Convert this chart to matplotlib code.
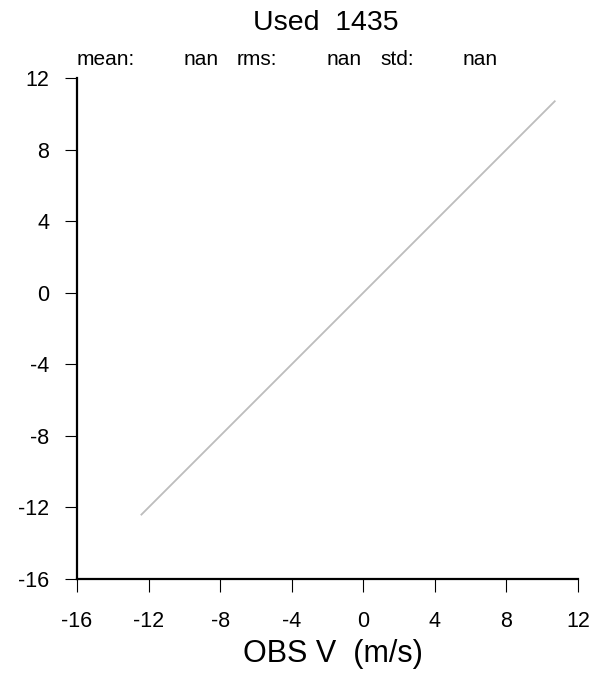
import matplotlib; matplotlib.use('Agg')
import matplotlib.pyplot as plt

# ── data ──────────────────────────────────────────────
n_used     = 1435
stat_names = ['mean:', 'rms:', 'std:']
stat_vals  = ['nan', 'nan', 'nan']
line_x     = [-12.4, 10.7]      # 1:1 reference line, data range
line_y     = [-12.4, 10.7]
ticks      = [-16, -12, -8, -4, 0, 4, 8, 12]
xlabel     = 'OBS V  (m/s)'

plt.rcParams['font.family'] = ['Liberation Sans', 'DejaVu Sans']
plt.rcParams['axes.unicode_minus'] = False

W, H = 603, 674
fig = plt.figure(figsize=(W/100, H/100), dpi=100)
ax = fig.add_axes([77/W, 1-579/H, 501/W, 501/H])

ax.plot(line_x, line_y, color='#bdbdbd', lw=1.3)

ax.set_xlim(-16, 12); ax.set_ylim(-16, 12)
ax.set_xticks(ticks); ax.set_yticks(ticks)
ax.tick_params(direction='out', length=9, width=0.8, labelsize=15.5, color='black')
ax.tick_params(axis='x', pad=14)
ax.tick_params(axis='y', pad=11)
for s in ['top', 'right']:
    ax.spines[s].set_visible(False)
for s in ['left', 'bottom']:
    ax.spines[s].set_linewidth(1.6)

fig.text(326/W, 1-30/H, f'Used  {n_used}', ha='center', va='baseline', fontsize=20.5)
fig.text(333/W, 1-662/H, xlabel, ha='center', va='baseline', fontsize=22)

# stats row: label left-aligned, value right-aligned
lab_x = [77, 237, 380]
val_x = [219, 362, 498]
for nm, v, xl, xv in zip(stat_names, stat_vals, lab_x, val_x):
    fig.text(xl/W, 1-65/H, nm, ha='left', va='baseline', fontsize=15)
    fig.text(xv/W, 1-65/H, v, ha='right', va='baseline', fontsize=15)

plt.savefig('out.png', dpi=100)
